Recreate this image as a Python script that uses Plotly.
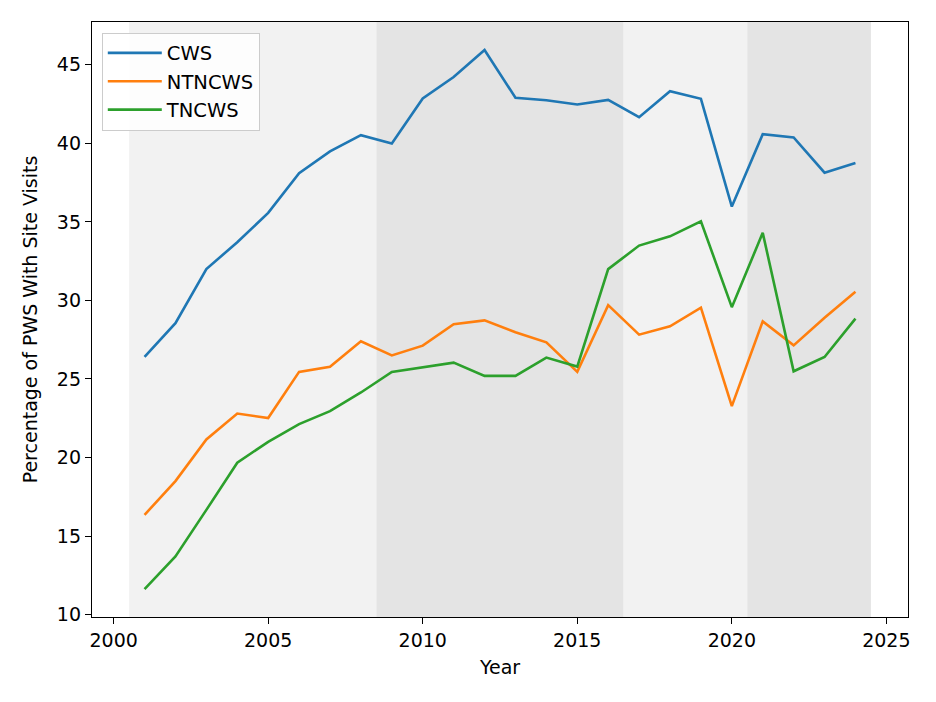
import plotly.graph_objects as go

years = list(range(2001, 2025))
cws = [26.4, 28.55, 32.0, 33.7, 35.57, 38.1, 39.48, 40.52, 39.99, 42.85, 44.22, 45.94,
       42.9, 42.74, 42.47, 42.76, 41.66, 43.31, 42.83, 35.97, 40.58, 40.37, 38.13, 38.74]
ntncws = [16.35, 18.5, 21.15, 22.8, 22.51, 25.45, 25.77, 27.4, 26.5, 27.12, 28.48, 28.73,
          27.97, 27.33, 25.45, 29.7, 27.82, 28.35, 29.54, 23.27, 28.67, 27.14, 28.9, 30.55]
tncws = [11.63, 13.7, 16.67, 19.67, 21.0, 22.13, 22.95, 24.14, 25.45, 25.73, 26.04, 25.2,
         25.2, 26.36, 25.79, 31.99, 33.49, 34.08, 35.04, 29.57, 34.3, 25.49, 26.4, 28.84]

series_names = ["CWS", "NTNCWS", "TNCWS"]
series_colors = ["#1f77b4", "#ff7f0e", "#2ca02c"]

span_starts = [2000.5, 2008.5, 2016.5, 2020.5]
span_ends = [2008.5, 2016.5, 2020.5, 2024.5]
span_colors = ["#f2f2f2", "#e4e4e4", "#f2f2f2", "#e4e4e4"]

x_ticks = [2000, 2005, 2010, 2015, 2020, 2025]
y_ticks = [10, 15, 20, 25, 30, 35, 40, 45]

FONT = "DejaVu Sans"

fig = go.Figure()
for name, vals, col in zip(series_names, [cws, ntncws, tncws], series_colors):
    fig.add_trace(go.Scatter(x=years, y=vals, mode="lines", name=name, legendgroup=name,
                             line=dict(color=col, width=2.6)))

shapes = []
for s, e, c in zip(span_starts, span_ends, span_colors):
    shapes.append(dict(type="rect", xref="x", yref="paper", x0=s, x1=e, y0=0, y1=1,
                       fillcolor=c, line=dict(width=0), layer="below"))

axis_common = dict(showgrid=False, zeroline=False, showline=True, mirror=True,
                   linecolor="black", linewidth=1.3, ticks="outside", ticklen=6,
                   tickwidth=1.3, tickcolor="black",
                   tickfont=dict(family=FONT, size=19, color="black"))

fig.update_layout(
    width=936, height=702,
    margin=dict(l=84, r=36, t=14, b=93),
    paper_bgcolor="white", plot_bgcolor="white",
    font=dict(family=FONT, size=19, color="black"),
    shapes=shapes,
    xaxis=dict(range=[1999.3, 2025.7], tickvals=x_ticks,
               title=dict(text="Year", font=dict(family=FONT, size=19), standoff=10),
               **axis_common),
    yaxis=dict(range=[9.85, 47.72], tickvals=y_ticks,
               title=dict(text="Percentage of PWS With Site Visits",
                          font=dict(family=FONT, size=19), standoff=14),
               **axis_common),
    legend=dict(x=0.012, y=0.982, xanchor="left", yanchor="top",
                bgcolor="rgba(255,255,255,0.85)", bordercolor="#cccccc", borderwidth=1,
                itemwidth=54, tracegroupgap=0,
                font=dict(family=FONT, size=19.5, color="black")),
    showlegend=True,
)

fig.write_html("out.html")
